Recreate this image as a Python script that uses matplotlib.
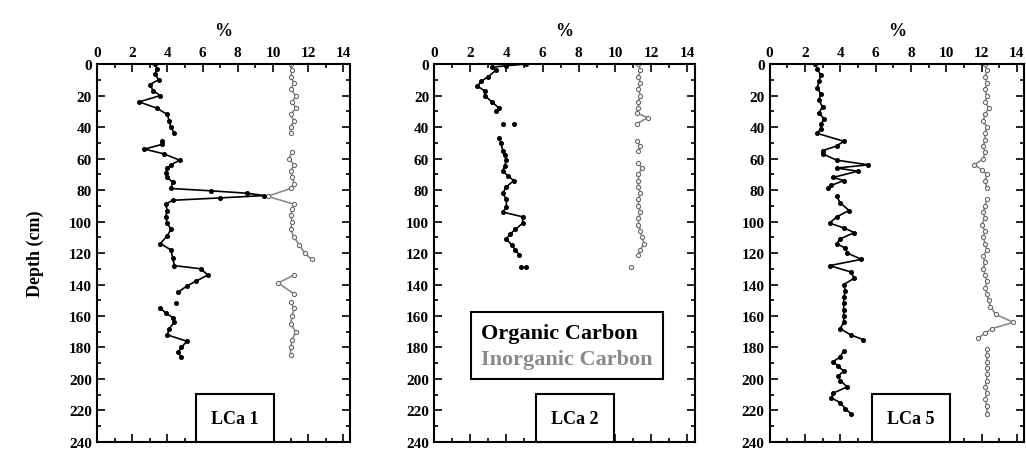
import numpy as np
import matplotlib
matplotlib.use("Agg")
import matplotlib.pyplot as plt
from matplotlib.ticker import MultipleLocator

nan = np.nan

plt.rcParams['font.family'] = ['Liberation Serif', 'DejaVu Serif']
plt.rcParams['font.weight'] = 'bold'

# LCa 1
d1_org = [0, 3, 6, 10, 13, 17, 20, 24, 28, 32, 36, 40, 44, nan, 49, 51, 54, 57, 61, 64, 66, 69, 72, 75, 79,
          80.5, 82, 83.5, 85, 86.5, 89, 93, 97, 101, 105, 109, 114, 118, 123, 128, 130, 134, 138, 141, 145,
          nan, 152, nan, 155, 158, 161, 164, 168, 172, 176, 180, 183, 186]
v1_org = [3.3, 3.4, 3.3, 3.5, 3.0, 3.2, 3.6, 2.4, 3.4, 4.0, 4.1, 4.2, 4.4, nan, 3.7, 3.7, 2.7, 3.8, 4.7, 4.2,
          4.0, 3.9, 4.0, 4.3, 4.2, 6.5, 8.5, 9.5, 7.0, 4.3, 3.9, 4.0, 3.9, 4.0, 4.2, 4.0, 3.6, 4.2, 4.3, 4.4,
          5.9, 6.3, 5.6, 5.1, 4.6, nan, 4.5, nan, 3.6, 3.9, 4.3, 4.4, 4.1, 4.0, 5.1, 4.8, 4.6, 4.8]
d1_inorg = [0, 4, 8, 12, 16, 20, 24, 28, 32, 36, 40, 44, nan, 56, 60, 64, 68, 72, 76, 79, 84, 89, 92, 96, 100,
            105, 110, 115, 120, 124, nan, 134, 139, 146, nan, 151, 155, 160, 165, 170, 175, 180, 185]
v1_inorg = [11.0, 11.1, 11.0, 11.2, 11.0, 11.3, 11.1, 11.3, 11.0, 11.2, 11.0, 11.0, nan, 11.1, 10.9, 11.2,
            11.0, 11.1, 11.2, 11.0, 9.7, 11.2, 11.1, 11.0, 11.1, 11.0, 11.2, 11.5, 11.8, 12.2, nan, 11.2, 10.3,
            11.2, nan, 11.0, 11.2, 11.1, 11.0, 11.3, 11.1, 11.0, 11.0]

# LCa 2
d2_org = [0, 1, 2, 4, 8, 11, 14, 17, 20, 24, 28, 30, nan, 38, nan, 38, nan, 47, 50, 55, 58, 61, 65, 68, 71,
          74, 78, 82, 86, 91, 94, 97, 101, 105, 108, 111, 115, 118, 121, nan, 129, nan, 129]
v2_org = [5.1, 4.0, 3.2, 3.4, 3.0, 2.6, 2.4, 2.8, 2.8, 3.2, 3.6, 3.4, nan, 3.8, nan, 4.4, nan, 3.6, 3.7, 3.8,
          3.9, 4.0, 3.9, 3.8, 4.1, 4.4, 4.0, 3.8, 4.0, 4.0, 3.8, 4.9, 4.9, 4.5, 4.2, 4.0, 4.3, 4.5, 4.7, nan,
          4.8, nan, 5.1]
d2_inorg = [0, 4, 8, 12, 16, 20, 24, 28, 31, 34, 38, nan, 49, 52, 55, nan, 63, 66, 70, 74, 78, 82, 86, 90, 94,
            98, 102, 106, 110, 114, 118, 121, nan, 129]
v2_inorg = [11.3, 11.4, 11.3, 11.4, 11.3, 11.4, 11.3, 11.3, 11.2, 11.8, 11.2, nan, 11.2, 11.4, 11.3, nan,
            11.3, 11.5, 11.3, 11.3, 11.3, 11.4, 11.3, 11.3, 11.4, 11.3, 11.3, 11.4, 11.5, 11.6, 11.4, 11.3,
            nan, 10.9]

# LCa 5
d3_org = [0, 3, 7, 11, 15, 19, 23, 27, 31, 35, 38, 41, 44, 49, 52, 55, 57, 61, 64, 66, 68, 72, 74, 77, 79,
          nan, 84, 88, 93, 97, 101, 104, 107, 111, 114, 117, 120, 124, 128, 132, 136, 140, 144, 148, 152,
          156, 160, 164, 168, 172, 175, nan, 182, 186, 189, 192, 195, 198, 201, 205, 209, 212, 215, 219, 222]
v3_org = [2.6, 2.7, 2.9, 2.8, 2.7, 2.9, 2.8, 3.0, 2.8, 3.1, 2.9, 2.9, 2.7, 4.2, 3.8, 3.0, 3.0, 3.8, 5.6, 3.8,
          5.0, 3.6, 4.2, 3.5, 3.3, nan, 3.8, 4.0, 4.5, 3.8, 3.4, 4.2, 4.8, 4.0, 3.8, 4.3, 4.4, 5.2, 3.4, 4.6,
          4.8, 4.2, 4.3, 4.2, 4.2, 4.2, 4.2, 4.2, 4.0, 4.6, 5.3, nan, 4.2, 4.0, 3.6, 3.9, 4.2, 3.9, 4.0, 4.4,
          3.6, 3.5, 4.0, 4.3, 4.6]
d3_inorg = [0, 4, 8, 12, 16, 20, 24, 28, 32, 36, 40, 44, 48, 52, 56, 60, 64, 67, 70, 74, 79, nan, 86, 90, 94,
            98, 102, 106, 110, 114, 118, 122, 126, 130, 134, 138, 142, 146, 150, 154, 159, 164, 168, 171, 174,
            nan, 181, 185, 189, 193, 197, 201, 205, 209, 213, 217, 222]
v3_inorg = [12.2, 12.3, 12.2, 12.3, 12.2, 12.3, 12.2, 12.4, 12.2, 12.1, 12.3, 12.2, 12.2, 12.1, 12.2, 12.1,
            11.6, 12.0, 12.3, 12.2, 12.3, nan, 12.3, 12.2, 12.1, 12.2, 12.0, 12.2, 12.1, 12.2, 12.3, 12.1,
            12.2, 12.1, 12.2, 12.3, 12.2, 12.3, 12.4, 12.5, 12.8, 13.8, 12.6, 12.2, 11.8, nan, 12.3, 12.3,
            12.3, 12.3, 12.3, 12.3, 12.2, 12.3, 12.2, 12.3, 12.3]

cores = ['LCa 1', 'LCa 2', 'LCa 5']
organic = [(v1_org, d1_org), (v2_org, d2_org), (v3_org, d3_org)]
inorganic = [(v1_inorg, d1_inorg), (v2_inorg, d2_inorg), (v3_inorg, d3_inorg)]
x_ticks = [0, 2, 4, 6, 8, 10, 12, 14]
y_ticks = [0, 20, 40, 60, 80, 100, 120, 140, 160, 180, 200, 220, 240]

fig = plt.figure(figsize=(10.26, 4.52), dpi=100)
lefts = [0.0945, 0.423, 0.750]
widths = [0.247, 0.254, 0.248]
box_x = [0.545, 0.54, 0.555]

for i in range(3):
    ax = fig.add_axes([lefts[i], 0.02, widths[i], 0.836])
    ov, od = organic[i]
    iv, idp = inorganic[i]
    l2, = ax.plot(iv, idp, color='#8a8a8a', lw=1.2, marker='o', ms=3,
                  mfc='white', mec='#6a6a6a', mew=0.8, label='Inorganic Carbon')
    l1, = ax.plot(ov, od, color='black', lw=1.2, marker='o', ms=2.6,
                  mfc='black', mec='black', label='Organic Carbon')
    ax.set_xlim(0, 14.4)
    ax.set_ylim(240, 0)
    ax.xaxis.tick_top()
    ax.xaxis.set_label_position('top')
    ax.set_xticks(x_ticks)
    ax.set_yticks(y_ticks)
    ax.xaxis.set_minor_locator(MultipleLocator(1))
    ax.yaxis.set_minor_locator(MultipleLocator(10))
    ax.tick_params(which='both', direction='in', top=True, bottom=True, left=True, right=True,
                   labelsize=11, width=1.2)
    ax.tick_params(which='major', length=6)
    ax.tick_params(which='minor', length=3)
    for sp in ax.spines.values():
        sp.set_linewidth(1.5)
    ax.set_xlabel('%', fontsize=13, fontweight='bold', labelpad=8)
    if i == 0:
        ax.set_ylabel('Depth (cm)', fontsize=13, fontweight='bold', labelpad=18)
    ax.text(box_x[i], 0.04, cores[i], transform=ax.transAxes, ha='center', va='bottom',
            fontsize=13, fontweight='bold',
            bbox=dict(boxstyle='square,pad=0.85', fc='white', ec='black', lw=1.5))
    if i == 1:
        leg = ax.legend([l1, l2], ['Organic Carbon', 'Inorganic Carbon'], loc='center',
                        bbox_to_anchor=(0.51, 0.255), handlelength=0, handletextpad=0,
                        fancybox=False, edgecolor='black', framealpha=1, borderpad=0.45,
                        labelspacing=0.25, prop={'size': 16, 'weight': 'bold'},
                        labelcolor=['black', '#8a8a8a'])
        leg.get_frame().set_linewidth(1.5)
        for h in leg.legend_handles:
            h.set_visible(False)

fig.savefig('out.png', dpi=100)
